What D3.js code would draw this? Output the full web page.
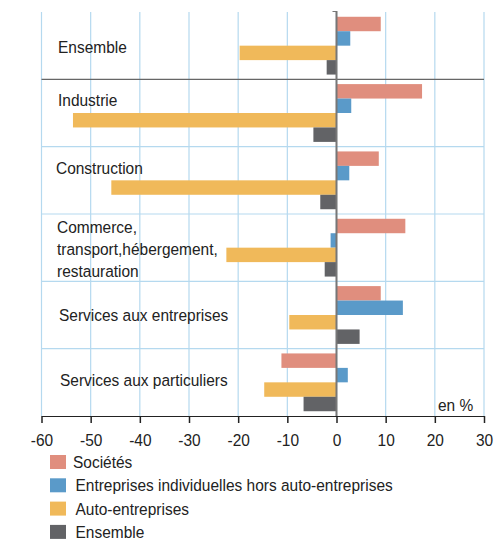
<!DOCTYPE html>
<html>
<head>
<meta charset="utf-8">
<script src="https://cdn.jsdelivr.net/npm/d3@7"></script>
<style>
  body { margin: 0; background: #fff; }
  text { font-family: "Liberation Sans", Arial, sans-serif; fill: #222; }
</style>
</head>
<body>
<div id="chart"></div>
<script>
let width = 494,
    height = 539,
    margin = ({ top: 12, right: 10, bottom: 125, left: 41.5 });

const categories = ["Ensemble", "Industrie", "Construction", "Commerce", "Services aux entreprises", "Services aux particuliers"];
const catLabels = [["Ensemble"], ["Industrie"], ["Construction"], ["Commerce,", "transport,hébergement,", "restauration"], ["Services aux entreprises"], ["Services aux particuliers"]];
const series = ["Sociétés", "Entreprises individuelles hors auto-entreprises", "Auto-entreprises", "Ensemble"];

// values, in %
const societes    = [9.0, 17.4, 8.6, 14.0, 9.0, -11.2];
const entrIndiv   = [2.8, 3.0, 2.6, -1.2, 13.5, 2.3];
const autoEntr    = [-19.7, -53.6, -45.8, -22.4, -9.6, -14.7];
const ensemble    = [-2.0, -4.7, -3.3, -2.4, 4.7, -6.7];
const ticks = [-60, -50, -40, -30, -20, -10, 0, 10, 20, 30];

const data = categories.map((c, i) => ({
  cat: c,
  values: [societes[i], entrIndiv[i], autoEntr[i], ensemble[i]]
}));

const color = d3.scaleOrdinal()
  .domain(series)
  .range(["#e08e7e", "#5a9ac9", "#f0b95a", "#626366"]);

const svg = d3.select("#chart").append("svg")
  .attr("width", width)
  .attr("height", height);

let x = d3.scaleLinear()
  .domain([-60, 30])
  .range([margin.left, width - margin.right]);

let y0 = d3.scaleBand()
  .domain(categories)
  .range([margin.top, height - margin.bottom + 2]);

let y1 = d3.scaleBand()
  .domain(d3.range(series.length))
  .range([0, y0.bandwidth()])
  .paddingOuter(0.33);

const plotBottom = y0.range()[1];

// vertical grid
svg.append("g")
  .selectAll("line")
  .data(ticks)
  .join("line")
    .attr("x1", d => x(d))
    .attr("x2", d => x(d))
    .attr("y1", margin.top)
    .attr("y2", plotBottom)
    .attr("stroke", "#b5d9ef")
    .attr("stroke-width", 1.2);

// horizontal separators between groups
svg.append("g")
  .selectAll("line")
  .data(categories.slice(1))
  .join("line")
    .attr("x1", x(-60))
    .attr("x2", x(30))
    .attr("y1", d => y0(d))
    .attr("y2", d => y0(d))
    .attr("stroke", (d, i) => i === 0 ? "#666" : "#b5d9ef")
    .attr("stroke-width", 1.2);

// category labels
const labelY = [52.5, 105.5, 174, 233, 321, 386];
const labelX = [58, 58, 56, 57, 59, 60];
const sx = 0.91;
catLabels.forEach((lines, i) => {
  lines.forEach((t, j) => {
    svg.append("text")
      .attr("transform", `translate(${labelX[i]},${labelY[i] + j * 22}) scale(${sx},1)`)
      .attr("font-size", 17)
      .text(t);
  });
});

// bars
svg.append("g")
  .selectAll("g")
  .data(data)
  .join("g")
    .attr("transform", d => `translate(0,${y0(d.cat)})`)
  .selectAll("rect")
  .data(d => d.values.map((v, k) => ({ k, v })))
  .join("rect")
    .attr("x", d => x(Math.min(0, d.v)))
    .attr("width", d => Math.abs(x(d.v) - x(0)))
    .attr("y", d => y1(d.k))
    .attr("height", y1.bandwidth())
    .attr("fill", d => color(series[d.k]));

// zero line
svg.append("line")
  .attr("x1", x(0)).attr("x2", x(0))
  .attr("y1", margin.top - 1).attr("y2", plotBottom)
  .attr("stroke", "#777")
  .attr("stroke-width", 2);
svg.append("line")
  .attr("x1", x(0) - 4).attr("x2", x(0))
  .attr("y1", margin.top - 0.5).attr("y2", margin.top - 0.5)
  .attr("stroke", "#777")
  .attr("stroke-width", 1);

// x axis
const xAxis = svg.append("g")
  .attr("transform", `translate(0,${plotBottom})`)
  .call(d3.axisBottom(x).tickValues(ticks).tickFormat(d => String(d))
    .tickSize(7).tickPadding(11).tickSizeOuter(0));
xAxis.select(".domain").attr("stroke", "#222").attr("stroke-width", 1.2);
xAxis.selectAll(".tick line").attr("stroke", "#222").attr("stroke-width", 1.5);
xAxis.selectAll(".tick text")
  .attr("font-size", 17)
  .attr("font-family", "Liberation Sans, Arial, sans-serif")
  .attr("fill", "#222")
  .attr("transform", `scale(${sx},1)`);

svg.append("text")
  .attr("transform", `translate(438,411) scale(${sx},1)`)
  .attr("font-size", 17)
  .text("en %");

// legend
const legend = svg.append("g")
  .attr("transform", "translate(50,455)");

legend.selectAll("rect")
  .data(series)
  .join("rect")
    .attr("x", 0)
    .attr("y", (d, i) => i * 23.3)
    .attr("width", 16)
    .attr("height", 14)
    .attr("fill", d => color(d));

legend.selectAll("text")
  .data(series)
  .join("text")
    .attr("transform", (d, i) => `translate(${i === 0 ? 23 : 25.5},${i * 23.3 + 13}) scale(${sx},1)`)
    .attr("font-size", 17)
    .text(d => d);
</script>
</body>
</html>
